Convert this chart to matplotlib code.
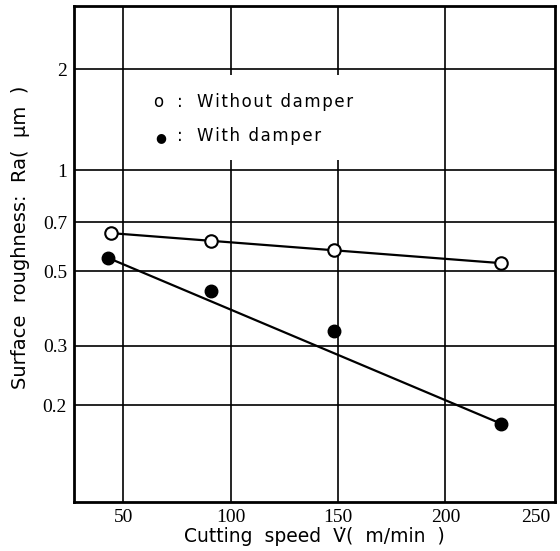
import matplotlib
matplotlib.use("Agg")
import matplotlib.pyplot as plt
from matplotlib.patches import Rectangle
from matplotlib.transforms import offset_copy

# Data
speed_without = [44, 91, 148, 226]
ra_without = [0.65, 0.615, 0.578, 0.529]
speed_with = [43, 91, 148, 226]
ra_with = [0.548, 0.437, 0.332, 0.176]

# fitted lines (endpoints)
fit_without_x = [44, 226]
fit_without_y = [0.65, 0.529]
fit_with_x = [43, 226]
fit_with_y = [0.548, 0.176]

xticks = [50, 100, 150, 200, 250]
yticks = [0.2, 0.3, 0.5, 0.7, 1, 2]
ytick_labels = ["0.2", "0.3", "0.5", "0.7", "1", "2"]

legend_labels = ["Without damper", "With damper"]

fig = plt.figure(figsize=(5.6, 5.51), dpi=100)
ax = fig.add_axes([74/560, 1-502/551, (555-74)/560, (502-6)/551])
ax.set_yscale("log")
ax.set_xlim(27, 251)
ax.set_ylim(0.103, 3.08)

serif = "Liberation Serif"
sans = "DejaVu Sans"


def spaced(s):
    return "\u200a".join(s)


ax.set_xticks(xticks)
ax.set_xticklabels([str(t) for t in xticks], fontfamily=serif, fontsize=14)
ax.set_yticks(yticks)
ax.set_yticklabels(ytick_labels, fontfamily=serif, fontsize=14)
ax.minorticks_off()
ax.tick_params(length=0, pad=5)
lab = ax.get_xticklabels()[-1]
lab.set_transform(offset_copy(lab.get_transform(), fig=fig, x=-17, y=0, units="dots"))

for x in xticks[:-1]:
    ax.axvline(x, color="black", lw=1.2, zorder=1)
for y in yticks:
    ax.axhline(y, color="black", lw=1.2, zorder=1)

for s in ax.spines.values():
    s.set_linewidth(2)

# white legend area
ax.add_patch(Rectangle((0.106, 0.69), 0.48, 0.17, transform=ax.transAxes,
                       facecolor="white", edgecolor="none", zorder=2))
ax.text(0.164, 0.807, "o", transform=ax.transAxes,
        fontfamily=sans, fontsize=12, va="center", ha="left", zorder=3)
ax.text(0.17, 0.735, "●", transform=ax.transAxes,
        fontfamily=sans, fontsize=9, va="center", ha="left", zorder=3)
for yy, t in zip([0.807, 0.737], legend_labels):
    ax.text(0.214, yy, ":", transform=ax.transAxes,
            fontfamily=sans, fontsize=12, va="center", ha="left", zorder=3)
    ax.text(0.255, yy, spaced(t), transform=ax.transAxes,
            fontfamily=sans, fontsize=12, va="center", ha="left", zorder=3)

ax.plot(fit_without_x, fit_without_y, color="black", lw=1.6, zorder=4)
ax.plot(fit_with_x, fit_with_y, color="black", lw=1.6, zorder=4)
ax.plot(speed_without, ra_without, "o", ms=9, mfc="white", mec="black", mew=1.5, zorder=5)
ax.plot(speed_with, ra_with, "o", ms=9, mfc="black", mec="black", zorder=5)

ax.set_xlabel("Cutting  speed  V̇(  m/min  )", fontfamily=sans, fontsize=13.5, labelpad=1)
ax.set_ylabel("Surface  roughness:  Ra(  μm  )", fontfamily=sans, fontsize=14)
ax.yaxis.set_label_coords(-0.092, 0.534)

fig.savefig("out.png", dpi=100)
